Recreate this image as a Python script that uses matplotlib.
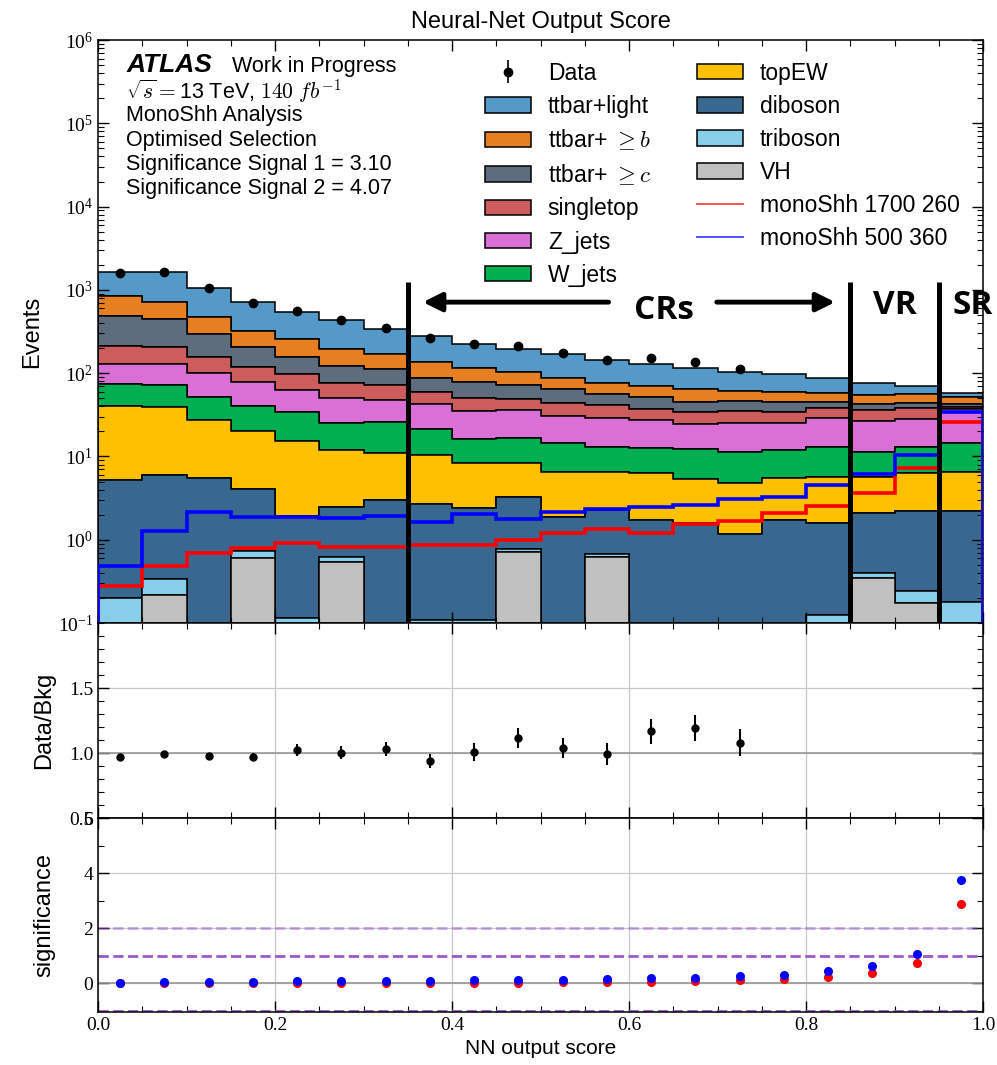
import numpy as np
import matplotlib
matplotlib.use("Agg")
import matplotlib.pyplot as plt
from matplotlib.lines import Line2D
from matplotlib.patches import Patch
from matplotlib.ticker import MultipleLocator, FixedLocator

plt.rcParams['font.family'] = ['Liberation Sans', 'DejaVu Sans']
plt.rcParams['mathtext.fontset'] = 'cm'

# binning of the NN score
edges = np.linspace(0.0, 1.0, 21)
centers = 0.5 * (edges[:-1] + edges[1:])

# background yields per bin, bottom of the stack first
vh = [0, 0.215, 0, 0.61, 0, 0.535, 0, 0, 0, 0.706, 0, 0.625, 0, 0, 0, 0, 0, 0.344, 0.172, 0]
triboson = [0.20, 0.12, 0, 0.12, 0.116, 0.08, 0, 0.109, 0.108, 0.07, 0, 0.055, 0, 0, 0, 0, 0.125, 0.056, 0.072, 0.177]
diboson = [5.05, 5.64, 5.46, 3.30, 1.83, 1.84, 3.0, 2.57, 2.27, 2.51, 1.87, 1.62, 1.74, 1.6, 1.16, 1.72, 1.45, 1.71, 1.97, 2.05]
topew = [34.8, 33.2, 22.1, 16.2, 13.4, 9.45, 8.1, 7.72, 5.88, 4.98, 4.68, 4.25, 4.53, 3.71, 3.59, 3.84, 4.14, 3.6, 4.17, 4.32]
w_jets = [35.0, 33.4, 23.6, 20.1, 18.5, 13.5, 14.5, 10.9, 7.74, 8.54, 7.85, 6.35, 6.23, 6.99, 6.65, 6.34, 7.19, 5.69, 6.72, 7.85]
z_jets = [55.0, 55.4, 48.3, 37.2, 29.4, 24.4, 21.9, 20.9, 19.4, 19.6, 16.4, 15.7, 14.8, 12.2, 14.0, 13.5, 15.7, 15.5, 15.0, 22.3]
singletop = [83, 79, 57.5, 40.5, 33.6, 25.7, 24.5, 16.7, 14.4, 12.5, 13.4, 13.2, 9.4, 9.9, 10.0, 9.0, 9.2, 9.2, 9.7, 2.8]
ttbar_c = [276, 239, 135, 88, 59.2, 46.1, 39, 29.1, 29.1, 23.1, 19.8, 14.3, 14.5, 11.0, 11.3, 10.2, 6.8, 6.1, 5.6, 3.1]
ttbar_b = [361, 274, 183, 117, 99, 73.4, 57, 49, 37.1, 30, 22.7, 20.6, 19.4, 18.5, 14.8, 14.3, 13.6, 12.4, 12.2, 9.5]
ttbar_light = [800, 930, 585, 397, 291, 235, 168, 144, 107, 93, 82, 67, 58, 50, 42.5, 38, 30, 20.8, 15, 5.1]

# signals
sig_1700_260 = [0.275, 0.49, 0.687, 0.80, 0.905, 0.824, 0.824, 0.87, 0.87, 0.99, 1.21, 1.35, 1.20, 1.54, 1.68, 2.09, 2.56, 3.67, 7.2, 26.1]
sig_500_360 = [0.49, 1.27, 2.17, 1.89, 1.89, 1.84, 1.94, 1.62, 2.02, 1.77, 2.15, 2.35, 2.47, 2.61, 3.1, 3.3, 4.6, 6.1, 10.4, 34.4]

# data (blinded above 0.75)
data = [1610, 1640, 1040, 700, 560, 430, 348, 266, 223, 214, 175, 142, 153, 137, 113]
ratio = [0.971, 0.99, 0.977, 0.971, 1.023, 1.003, 1.029, 0.94, 1.01, 1.117, 1.039, 0.99, 1.167, 1.195, 1.078]
ratio_err = [0.015, 0.022, 0.025, 0.028, 0.043, 0.05, 0.052, 0.052, 0.068, 0.078, 0.08, 0.085, 0.098, 0.1, 0.104]

# per-bin significance
signif_1700_260 = [0.0, 0.01, 0.01, 0.01, 0.01, 0.01, 0.01, 0.01, 0.02, 0.02, 0.04, 0.06, 0.06, 0.08, 0.11, 0.14, 0.24, 0.36, 0.75, 2.89]
signif_500_360 = [0.0, 0.05, 0.05, 0.05, 0.09, 0.09, 0.09, 0.09, 0.12, 0.12, 0.12, 0.17, 0.21, 0.21, 0.26, 0.30, 0.45, 0.63, 1.07, 3.76]

stack = [vh, triboson, diboson, topew, w_jets, z_jets, singletop, ttbar_c, ttbar_b, ttbar_light]
stack_labels = ['VH', 'triboson', 'diboson', 'topEW', 'W_jets', 'Z_jets', 'singletop',
                r'ttbar+ $\geq c$', r'ttbar+ $\geq b$', 'ttbar+light']
stack_colors = ['#c0c0c0', '#87ceeb', '#386890', '#ffc000', '#00b050', '#da70d6',
                '#cd5c5c', '#5d6d7e', '#e67e22', '#5499c7']

region_edges = [0.35, 0.85, 0.95]

fig = plt.figure(figsize=(9.97, 10.65), dpi=100)
ax1 = fig.add_axes([0.0983, 0.415, 0.8877, 0.5474])
ax2 = fig.add_axes([0.0983, 0.2319, 0.8877, 0.1831], sharex=ax1)
ax3 = fig.add_axes([0.0983, 0.0498, 0.8877, 0.1821], sharex=ax1)

# --- main panel ---
ax1.set_yscale('log')
ax1.hist([centers] * len(stack), bins=edges, weights=stack, stacked=True,
         histtype='stepfilled', color=stack_colors, edgecolor='black', linewidth=1.1)
ax1.hist(centers, bins=edges, weights=sig_1700_260, histtype='step', color='red', linewidth=2.6, zorder=3)
ax1.hist(centers, bins=edges, weights=sig_500_360, histtype='step', color='blue', linewidth=2.6, zorder=3)

bkg_total = np.sum(np.array(stack), axis=0)
data_err = np.array(ratio_err) * bkg_total[:len(data)]
data_h = ax1.errorbar(centers[:len(data)], data, yerr=data_err, fmt='o', color='black',
                      ms=6, elinewidth=1.2, zorder=5)

ax1.set_xlim(0, 1)
ax1.set_ylim(0.1, 1e6)
ax1.set_ylabel('Events', fontsize=17)
ax1.set_title('Neural-Net Output Score', fontsize=17, pad=9)

# region markers
for xr in region_edges:
    ax1.plot([xr, xr], [0.1, 1250], color='black', linewidth=3.6, zorder=6, solid_capstyle='butt')
ax1.annotate('', xy=(0.364, 713), xytext=(0.58, 713),
             arrowprops=dict(arrowstyle='-|>', lw=3.5, color='black', mutation_scale=28), zorder=6)
ax1.annotate('', xy=(0.836, 713), xytext=(0.696, 713),
             arrowprops=dict(arrowstyle='-|>', lw=3.5, color='black', mutation_scale=28), zorder=6)
bold_kw = dict(family='Open Sans', fontweight='bold', fontsize=24, ha='center', va='center', zorder=7)
ax1.text(0.640, 571, 'CRs', **bold_kw)
ax1.text(0.90, 656, 'VR', **bold_kw)
ax1.text(0.988, 656, 'SR', clip_on=False, **bold_kw)

# ATLAS label block
ax1.text(0.032, 0.958, 'ATLAS', transform=ax1.transAxes, fontsize=19, fontweight='bold',
         style='italic', va='center')
ax1.text(0.151, 0.9554, 'Work in Progress', transform=ax1.transAxes, fontsize=15.5, va='center')
info_lines = [r'$\sqrt{s} = $13 TeV, $140\ fb^{-1}$', 'MonoShh Analysis', 'Optimised Selection',
              'Significance Signal 1 = 3.10', 'Significance Signal 2 = 4.07']
info_y = [0.9125, 0.8714, 0.8285, 0.7873, 0.7461]
for txt, yy in zip(info_lines, info_y):
    ax1.text(0.032, yy, txt, transform=ax1.transAxes, fontsize=15.5, va='center')

patch_h = [Patch(facecolor=c, edgecolor='black', linewidth=1.1) for c in stack_colors]
handles = [data_h] + patch_h[::-1] + [Line2D([], [], color='#ff4444', lw=1.3),
                                      Line2D([], [], color='#4444ff', lw=1.3)]
labels = ['Data'] + stack_labels[::-1] + ['monoShh 1700 260', 'monoShh 500 360']
ax1.legend(handles, labels, ncol=2, loc='upper left', bbox_to_anchor=(0.437, 0.963),
           frameon=False, fontsize=16.5, borderpad=0, borderaxespad=0, labelspacing=0.44,
           handlelength=2.0, handleheight=0.68, handletextpad=0.75, columnspacing=2.0)

# --- ratio panel ---
ax2.grid(True, color='#c8c8c8', linewidth=0.9)
ax2.axhline(1.0, color='#999999', linewidth=1.2)
ax2.errorbar(centers[:len(ratio)], ratio, yerr=ratio_err, fmt='o', color='black', ms=5,
             elinewidth=1.5, zorder=4)
ax2.set_ylim(0.5, 2.0)
ax2.yaxis.set_major_locator(FixedLocator([0.5, 1.0, 1.5]))
ax2.yaxis.set_minor_locator(MultipleLocator(0.1))
ax2.set_ylabel('Data/Bkg', fontsize=17)

# --- significance panel ---
ax3.grid(True, color='#c8c8c8', linewidth=0.9)
ax3.axhline(0.0, color='#999999', linewidth=1.2)
ax3.axhline(2.0, color='#9b59d0', alpha=0.5, linestyle='--', linewidth=2)
ax3.axhline(1.0, color='#9b59d0', linestyle='--', linewidth=2)
ax3.axhline(-1.0, color='#9b59d0', linestyle='--', linewidth=2)
ax3.plot(centers, signif_1700_260, 'o', color='red', ms=5.5, zorder=4)
ax3.plot(centers, signif_500_360, 'o', color='blue', ms=5.5, zorder=5)
ax3.set_ylim(-1.04, 6)
ax3.yaxis.set_major_locator(FixedLocator([0, 2, 4, 6]))
ax3.yaxis.set_minor_locator(MultipleLocator(1))
ax3.set_ylabel('significance', fontsize=17)
ax3.set_xlabel('NN output score', fontsize=15)

ax3.xaxis.set_major_locator(MultipleLocator(0.2))
ax3.xaxis.set_minor_locator(MultipleLocator(0.05))

for ax in (ax1, ax2, ax3):
    ax.tick_params(which='both', direction='in', top=True, right=True)
    ax.tick_params(which='major', length=8, width=1)
    ax.tick_params(which='minor', length=4, width=0.8)
    ax.tick_params(labelfontfamily='Liberation Serif', labelsize=14)
    for sp in ax.spines.values():
        sp.set_linewidth(1.1)
ax1.tick_params(labelbottom=False)
ax2.tick_params(labelbottom=False)
ax1.yaxis.set_label_coords(-0.062, 0.5)
ax2.yaxis.set_label_coords(-0.048, 0.5)
ax3.yaxis.set_label_coords(-0.048, 0.5)

fig.savefig('out.png', dpi=100)
